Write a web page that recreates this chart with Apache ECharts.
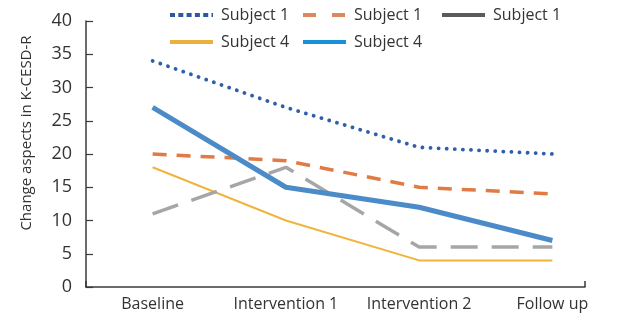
<!DOCTYPE html>
<html>
<head>
<meta charset="utf-8">
<script src="https://cdn.jsdelivr.net/npm/echarts@6/dist/echarts.min.js"></script>
<style>html,body{margin:0;padding:0;background:#fff;}#c{width:619px;height:323px;}</style>
</head>
<body>
<div id="c"></div>
<script>
const categories = ['Baseline', 'Intervention 1', 'Intervention 2', 'Follow up'];
const yTicks = [0, 5, 10, 15, 20, 25, 30, 35, 40];
const seriesNames = ['Subject 1', 'Subject 1', 'Subject 1', 'Subject 4', 'Subject 4'];
const subject1Dotted = [34, 27, 21, 20];
const subject1Dashed = [20, 19, 15, 14];
const subject1Gray = [11, 18, 6, 6];
const subject4Yellow = [18, 10, 4, 4];
const subject4Blue = [27, 15, 12, 7];

const FONT = '"Open Sans"';
const chart = echarts.init(document.getElementById('c'), null, {renderer: 'canvas'});

const lineStyles = [
  {color: '#2f5eab', width: 3.8, type: [0.1, 8], cap: 'round'},
  {color: '#e07b45', width: 3.5, type: [14, 10]},
  {color: '#a6a6a6', width: 3.5, type: [27, 14]},
  {color: '#f0b43c', width: 2, type: 'solid'},
  {color: '#4a8bc8', width: 5, type: 'solid'}
];
const legendStyles = [
  {color: '#2e56a2', width: 4, dash: [5, 3.3]},
  {color: '#d9895e', width: 4, dash: [13, 16]},
  {color: '#5a5a5a', width: 4, dash: null},
  {color: '#ecb040', width: 4, dash: null},
  {color: '#1a90d8', width: 4, dash: null}
];
const seriesData = [subject1Dotted, subject1Dashed, subject1Gray, subject4Yellow, subject4Blue];
const legendPos = [[170, 15], [303, 15], [442, 15], [170, 42], [303, 42]];

const legendGraphics = [];
seriesNames.forEach((n, i) => {
  const [x, y] = legendPos[i];
  const s = legendStyles[i];
  legendGraphics.push({
    type: 'line', shape: {x1: x, y1: y, x2: x + 43, y2: y},
    style: {stroke: s.color, lineWidth: s.width, lineDash: s.dash}, z: 10
  });
  legendGraphics.push({
    type: 'text', x: x + 51, y: y,
    style: {text: n, font: '16px ' + FONT, fill: '#333', verticalAlign: 'middle', align: 'left'}, z: 10
  });
});

chart.setOption({
  animation: false,
  backgroundColor: '#fff',
  graphic: legendGraphics,
  grid: [
    {left: 86, right: -22, top: 21, bottom: 36, containLabel: false},
    {left: 86, right: 34, top: 21, bottom: 36, containLabel: false}
  ],
  xAxis: [
    {
      type: 'category', data: categories, gridIndex: 0, boundaryGap: true,
      axisLine: {show: false}, axisTick: {show: false},
      axisLabel: {fontFamily: FONT, fontSize: 16, color: '#333', margin: 9, interval: 0}
    },
    {
      type: 'value', gridIndex: 1, min: 0, max: 1, interval: 1,
      axisLine: {show: true, lineStyle: {color: '#3a3a3a', width: 1.5}},
      axisTick: {show: true, inside: true, length: 6, lineStyle: {color: '#3a3a3a', width: 1.5}},
      axisLabel: {show: false}, splitLine: {show: false}
    }
  ],
  yAxis: [
    {
      type: 'value', gridIndex: 0, min: 0, max: 40, interval: 5,
      name: 'Change aspects in K-CESD-R', nameLocation: 'middle', nameGap: 52,
      nameTextStyle: {fontFamily: FONT, fontSize: 15, color: '#333', padding: [0, 0, 0, 42]},
      axisLine: {show: true, lineStyle: {color: '#3a3a3a', width: 1.5}},
      axisTick: {show: true, inside: true, length: 7, lineStyle: {color: '#3a3a3a', width: 1.2}},
      axisLabel: {fontFamily: FONT, fontSize: 18, color: '#333', margin: 14},
      splitLine: {show: false}
    },
    {
      type: 'value', gridIndex: 1, min: 0, max: 40, show: false
    }
  ],
  series: seriesNames.map((n, i) => ({
    name: n + '#' + i, type: 'line', xAxisIndex: 0, yAxisIndex: 0,
    data: seriesData[i], symbol: 'none', showSymbol: false,
    lineStyle: lineStyles[i], z: [5, 4, 3, 2, 6][i]
  }))
});
</script>
</body>
</html>
